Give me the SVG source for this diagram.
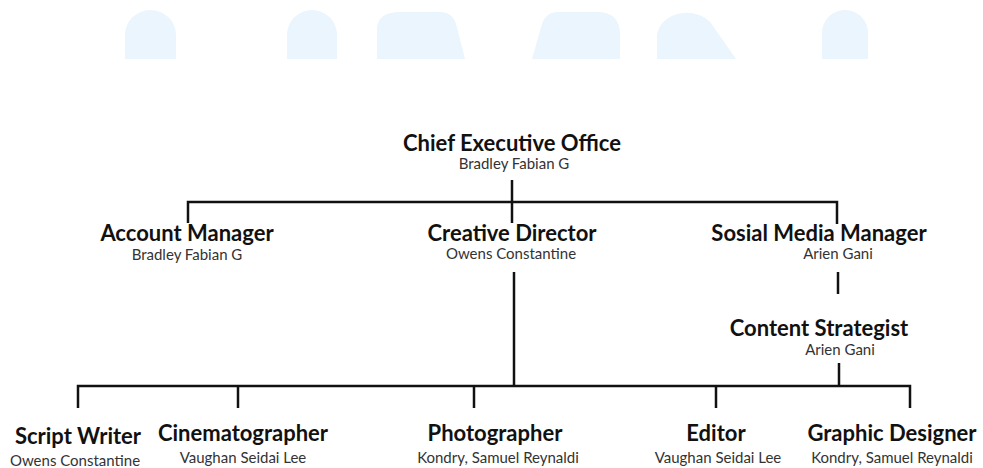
<svg xmlns="http://www.w3.org/2000/svg" width="983" height="468" viewBox="0 0 983 468">
<style>
.bg{fill:#eaf5fd}
.t{font-family:Lato,"Liberation Sans",sans-serif;font-weight:700;font-size:22px;fill:#111;text-anchor:middle}
.s{font-family:Lato,"Liberation Sans",sans-serif;font-size:15px;fill:#333;text-anchor:middle}
.ln{stroke:#111;stroke-width:2.5;fill:none;stroke-linecap:butt}
</style>
<rect width="983" height="468" fill="#fff"/>
<g id="decor">
<path class="bg" d="M125,59 V35 A25.5,25 0 0 1 176,35 V59 Z"/>
<path class="bg" d="M287,59 V35 A25,25 0 0 1 337,35 V59 Z"/>
<path class="bg" d="M377,59 V30 Q377,12 400,12 H440 Q452,12 456,24 L465,59 Z"/>
<path class="bg" d="M620,59 V35 Q620,12 597,12 H558 Q546,12 542,24 L532,59 Z"/>
<path class="bg" d="M657,59 V35 A30,25 0 0 1 710,22 L736,59 Z"/>
<path class="bg" d="M822,59 V33 A23,23 0 0 1 868,33 V59 Z"/>
</g>
<g id="connectors">
<path class="ln" d="M512,180 V223"/>
<path class="ln" d="M188,223 V202 H837 V224"/>
<path class="ln" d="M838,272 V294"/>
<path class="ln" d="M514,272 V386"/>
<path class="ln" d="M839,363 V386"/>
<path class="ln" d="M78,408 V386 H910 V408"/>
<path class="ln" d="M238,386 V408"/>
<path class="ln" d="M474,386 V408"/>
<path class="ln" d="M716,386 V408"/>
</g>
<g id="ceo"><text class="t" x="512" y="151">Chief Executive Office</text><text class="s" x="514" y="169">Bradley Fabian G</text></g>
<g id="account-manager"><text class="t" x="187" y="241">Account Manager</text><text class="s" x="187" y="260">Bradley Fabian G</text></g>
<g id="creative-director"><text class="t" x="512" y="241">Creative Director</text><text class="s" x="511" y="259">Owens Constantine</text></g>
<g id="social-media-manager"><text class="t" x="819" y="241">Sosial Media Manager</text><text class="s" x="838" y="259">Arien Gani</text></g>
<g id="content-strategist"><text class="t" x="819" y="336">Content Strategist</text><text class="s" x="840" y="355">Arien Gani</text></g>
<g id="script-writer"><text class="t" x="78" y="444">Script Writer</text><text class="s" x="75" y="466">Owens Constantine</text></g>
<g id="cinematographer"><text class="t" x="243" y="441">Cinematographer</text><text class="s" x="243" y="463">Vaughan Seidai Lee</text></g>
<g id="photographer"><text class="t" x="495" y="441">Photographer</text><text class="s" x="498" y="463">Kondry, Samuel Reynaldi</text></g>
<g id="editor"><text class="t" x="716" y="441">Editor</text><text class="s" x="718" y="463">Vaughan Seidai Lee</text></g>
<g id="graphic-designer"><text class="t" x="892" y="441">Graphic Designer</text><text class="s" x="892" y="463">Kondry, Samuel Reynaldi</text></g>
</svg>
